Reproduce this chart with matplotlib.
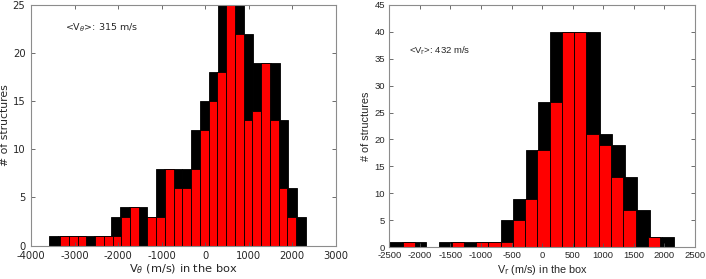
import numpy as np
import matplotlib.pyplot as plt

plt.rcParams['axes.unicode_minus'] = False

# left panel: V_theta
theta_black_edges = np.linspace(-3579, 2322, 30)
theta_black = [1, 1, 1, 1, 1, 1, 1, 3, 4, 4, 4, 3, 8, 8, 8, 8, 12, 15, 18,
               27, 28, 26, 22, 19, 19, 19, 13, 6, 3]
theta_red_edges = np.linspace(-3333, 2092, 28)
theta_red = [1, 1, 1, 0, 1, 1, 1, 3, 4, 0, 3, 3, 8, 6, 6, 8, 12, 15, 18,
             26, 22, 13, 14, 19, 13, 6, 3]

# right panel: V_r
r_black_edges = np.linspace(-2500, 2162, 24)
r_black = [1, 1, 1, 0, 1, 1, 1, 1, 1, 5, 9, 18, 27, 40, 40, 40, 40,
           21, 19, 13, 7, 2, 2]
r_red_edges = np.linspace(-2482, 1928, 23)
r_red = [0, 1, 0, 0, 0, 1, 0, 1, 1, 1, 5, 9, 18, 27, 40, 40, 21, 19,
         13, 7, 0, 2]


def draw_hist(ax, edges, counts, color):
    edges = np.asarray(edges)
    ax.bar(edges[:-1], counts, width=np.diff(edges), align='edge',
           color=color, edgecolor='black', linewidth=0.6)


def style_axes(ax, font, size, xpad, ypad):
    for s in ax.spines.values():
        s.set_color('#8c8c8c')
        s.set_linewidth(0.8)
    ax.tick_params(direction='in', top=True, right=True, length=3,
                   width=0.6, color='#555555', labelsize=size,
                   labelcolor='#262626')
    ax.tick_params(axis='x', pad=xpad)
    ax.tick_params(axis='y', pad=ypad)
    for lab in ax.get_xticklabels() + ax.get_yticklabels():
        lab.set_family(font)


fig = plt.figure(figsize=(7.06, 2.79), dpi=100)

ax1 = fig.add_axes([0.0439, 0.1194, 0.4316, 0.8638])
draw_hist(ax1, theta_black_edges, theta_black, 'black')
draw_hist(ax1, theta_red_edges, theta_red, '#ff0000')
ax1.set_xlim(-4000, 3000)
ax1.set_ylim(0, 25)
ax1.set_xticks(np.arange(-4000, 3001, 1000))
ax1.set_yticks(np.arange(0, 26, 5))
style_axes(ax1, 'DejaVu Sans', 7.2, 4, 4)
ax1.set_xlabel(r'V$_\theta$ (m/s) in the box', fontsize=8.2,
               color='#262626', labelpad=1)
ax1.set_ylabel('# of structures', fontsize=7.8, color='#262626',
               labelpad=2)
ax1.text(0.11, 0.905, r'<V$_\theta$>: 315 m/s', transform=ax1.transAxes,
         fontsize=6.8, color='#262626', va='center')

ax2 = fig.add_axes([0.5514, 0.1136, 0.4330, 0.8695])
draw_hist(ax2, r_black_edges, r_black, 'black')
draw_hist(ax2, r_red_edges, r_red, '#ff0000')
ax2.set_xlim(-2500, 2500)
ax2.set_ylim(0, 45)
ax2.set_xticks(np.arange(-2500, 2501, 500))
ax2.set_yticks(np.arange(0, 46, 5))
style_axes(ax2, 'Liberation Sans', 6.8, 3, 3)
ax2.set_xlabel(r'V$_\mathrm{r}$ (m/s) in the box', fontsize=7.8,
               color='#262626', labelpad=1.5, family='Liberation Sans')
ax2.set_ylabel('# of structures', fontsize=7.8, color='#262626',
               labelpad=2.5, family='Liberation Sans')
ax2.text(0.065, 0.81, r'<V$_\mathrm{r}$>: 432 m/s', transform=ax2.transAxes,
         fontsize=6.8, color='#262626', va='center', family='Liberation Sans')

fig.savefig('out.png', dpi=100)
